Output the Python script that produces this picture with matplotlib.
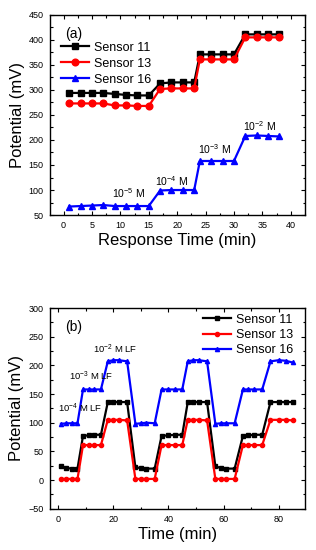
import matplotlib
matplotlib.use("Agg")
import matplotlib.pyplot as plt
from matplotlib.ticker import MultipleLocator

plt.rcParams['font.family'] = ['Liberation Sans', 'DejaVu Sans']
plt.rcParams['mathtext.fontset'] = 'custom'
plt.rcParams['mathtext.rm'] = 'Liberation Sans'
plt.rcParams['mathtext.it'] = 'Liberation Sans'

# ---------- Panel (a) data ----------
time_a = [1, 3, 5, 7, 9, 11, 13, 15, 17, 19, 21, 23, 24, 26, 28, 30, 32, 34, 36, 38]
s11_a = [294, 294, 294, 294, 292, 290, 289, 289, 313, 315, 315, 315,
         371, 371, 371, 371, 411, 411, 411, 411]
s13_a = [273, 273, 273, 273, 269, 269, 268, 268, 302, 303, 303, 303,
         361, 361, 361, 361, 405, 405, 405, 405]
s16_a = [67, 68, 69, 70, 68, 68, 68, 68, 99, 100, 100, 100,
         158, 158, 158, 158, 208, 209, 208, 207]
labels_a = ['$\\mathregular{10^{-5}}$ M', '$\\mathregular{10^{-4}}$ M',
            '$\\mathregular{10^{-3}}$ M', '$\\mathregular{10^{-2}}$ M']
label_pos_a = [(11.5, 94), (19, 117), (26.5, 182), (34.5, 228)]

# ---------- Panel (b) data ----------
time_b = [1, 3, 5, 7, 9, 11, 13, 15.5, 18, 20, 22, 25,
          28, 30, 32, 35, 37.5, 40, 42.5, 45, 47, 49, 51, 54,
          57, 59, 61, 64, 67, 69, 71, 74, 77, 80, 82.5, 85]
s11_b = [24, 21, 20, 20, 77, 78, 79, 79, 136, 136, 136, 136,
         22, 21, 20, 20, 77, 78, 79, 79, 136, 136, 136, 136,
         24, 21, 20, 20, 77, 78, 79, 79, 136, 136, 136, 136]
s13_b = [2, 2, 2, 2, 61, 61, 61, 61, 105, 105, 105, 104,
         2, 2, 2, 2, 61, 61, 61, 61, 105, 105, 105, 104,
         2, 2, 2, 2, 61, 61, 61, 61, 105, 105, 105, 104]
s16_b = [98, 99, 99, 99, 158, 158, 158, 158, 207, 209, 209, 207,
         98, 99, 100, 99, 158, 158, 158, 158, 207, 209, 209, 207,
         98, 99, 99, 99, 158, 158, 158, 158, 207, 209, 208, 205]
labels_b = ['$\\mathregular{10^{-4}}$ M LF', '$\\mathregular{10^{-3}}$ M LF',
            '$\\mathregular{10^{-2}}$ M LF']
label_pos_b = [(8.0, 125), (12.0, 181), (20.5, 228)]

fig = plt.figure(figsize=(3.16, 5.5), dpi=100)
ax1 = fig.add_axes([0.158, 0.609, 0.807, 0.364])
ax2 = fig.add_axes([0.158, 0.075, 0.807, 0.365])

def style(ax):
    ax.tick_params(which='both', direction='in', top=True, right=True,
                   labelsize=6.5, width=0.8, pad=4.5)
    ax.tick_params(which='major', length=3)
    ax.tick_params(which='minor', length=1.8)
    for s in ax.spines.values():
        s.set_linewidth(1.0)

# Panel (a)
ax1.plot(time_a, s11_a, '-s', color='black', lw=1.6, ms=4.2, label='Sensor 11')
ax1.plot(time_a, s13_a, '-o', color='red', lw=1.6, ms=4.8, label='Sensor 13')
ax1.plot(time_a, s16_a, '-^', color='blue', lw=1.6, ms=4.8, label='Sensor 16')
ax1.set_xlim(-2.4, 42.5)
ax1.set_ylim(50, 450)
ax1.xaxis.set_major_locator(MultipleLocator(5))
ax1.xaxis.set_minor_locator(MultipleLocator(2.5))
ax1.yaxis.set_major_locator(MultipleLocator(50))
ax1.yaxis.set_minor_locator(MultipleLocator(25))
style(ax1)
ax1.set_xlabel('Response Time (min)', fontsize=12, labelpad=2)
ax1.set_ylabel('Potential (mV)', fontsize=12, labelpad=3)
ax1.text(0.06, 0.94, '(a)', transform=ax1.transAxes, fontsize=10, va='top')
ax1.legend(loc='upper left', bbox_to_anchor=(0.027, 0.885), frameon=False,
           fontsize=9, handlelength=2.3, handletextpad=0.4,
           labelspacing=0.32, borderaxespad=0.0, borderpad=0.3)
for t, (x, y) in zip(labels_a, label_pos_a):
    ax1.text(x, y, t, fontsize=7.5, ha='center', va='center')

# Panel (b)
ax2.plot(time_b, s11_b, '-s', color='black', lw=1.6, ms=2.8, label='Sensor 11')
ax2.plot(time_b, s13_b, '-o', color='red', lw=1.6, ms=3.0, label='Sensor 13')
ax2.plot(time_b, s16_b, '-^', color='blue', lw=1.6, ms=3.0, label='Sensor 16')
ax2.set_xlim(-3, 89.5)
ax2.set_ylim(-50, 300)
ax2.xaxis.set_major_locator(MultipleLocator(20))
ax2.xaxis.set_minor_locator(MultipleLocator(10))
ax2.yaxis.set_major_locator(MultipleLocator(50))
ax2.yaxis.set_minor_locator(MultipleLocator(25))
style(ax2)
ax2.set_xlabel('Time (min)', fontsize=12, labelpad=2)
ax2.set_ylabel('Potential (mV)', fontsize=12, labelpad=3)
ax2.text(0.06, 0.94, '(b)', transform=ax2.transAxes, fontsize=10, va='top')
ax2.legend(loc='upper right', bbox_to_anchor=(0.97, 0.99), frameon=False,
           fontsize=9, handlelength=2.3, handletextpad=0.4,
           labelspacing=0.25, borderaxespad=0.0, borderpad=0.3)
for t, (x, y) in zip(labels_b, label_pos_b):
    ax2.text(x, y, t, fontsize=6.8, ha='center', va='center')

fig.savefig('out.png', dpi=100)
